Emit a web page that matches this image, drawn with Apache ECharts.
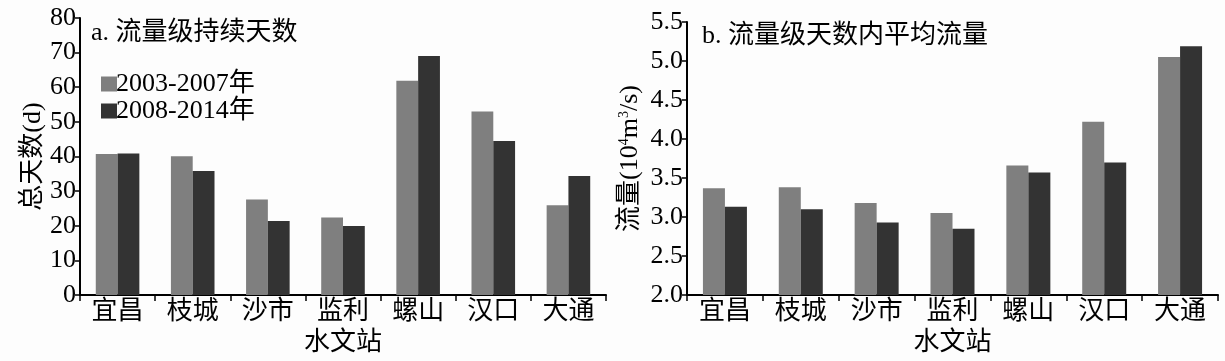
<!DOCTYPE html>
<html><head><meta charset="utf-8">
<script src="https://cdn.jsdelivr.net/npm/echarts@6/dist/echarts.min.js"></script>
<style>html,body{margin:0;padding:0;background:#fdfdfd}#c{width:1225px;height:361px}</style>
</head><body><div id="c"></div>
<script>
const stations = ['宜昌','枝城','沙市','监利','螺山','汉口','大通'];
const seriesNames = ['2003-2007年','2008-2014年'];
const daysEarly = [40.7, 40.1, 27.6, 22.4, 61.9, 53.0, 25.9];
const daysLate  = [40.9, 35.8, 21.4, 19.9, 69.0, 44.5, 34.4];
const flowEarly = [3.37, 3.38, 3.18, 3.05, 3.66, 4.22, 5.05];
const flowLate  = [3.13, 3.10, 2.93, 2.85, 3.57, 3.70, 5.19];
const daysTicks = {min:0, max:80, interval:10};
const flowTicks = {min:2.0, max:5.5, interval:0.5};

const FONT = '"Liberation Serif","Noto Sans CJK SC",serif';
const FS = 26;
const C1 = '#7f7f7f', C2 = '#333333';
const chart = echarts.init(document.getElementById('c'), null, {renderer:'canvas'});
const axisLine = {show:true, lineStyle:{color:'#000', width:2}};
const xAxisCommon = {
  type:'category', data:stations, name:'水文站', nameLocation:'middle', nameGap:35,
  nameTextStyle:{color:'#000', fontSize:FS, fontFamily:FONT},
  axisLine:axisLine, axisTick:{show:true, inside:false, length:6, lineStyle:{color:'#000', width:1.5}},
  axisLabel:{color:'#000', fontSize:FS, fontFamily:FONT, margin:4},
  splitLine:{show:false}
};
const yLabel = {color:'#000', fontSize:FS, fontFamily:FONT, margin:4};
const yTick = {show:true, inside:false, length:5, lineStyle:{color:'#000', width:1.5}};
chart.setOption({
  backgroundColor:'#fdfdfd',
  animation:false,
  title:[
    {text:'a. 流量级持续天数', left:86, top:15, textStyle:{fontSize:FS, fontWeight:'normal', color:'#000', fontFamily:FONT}},
    {text:'b. 流量级天数内平均流量', left:697, top:18, textStyle:{fontSize:FS, fontWeight:'normal', color:'#000', fontFamily:FONT}}
  ],
  legend:{
    data:seriesNames, orient:'vertical', left:96, top:66, itemWidth:16, itemHeight:15, itemGap:1,
    textStyle:{color:'#000', fontSize:FS, fontFamily:FONT, padding:[0,0,0,-6]}, icon:'rect'
  },
  grid:[
    {left:80, top:18, width:526, height:279},
    {left:687, top:22, width:531, height:275}
  ],
  xAxis:[
    Object.assign({gridIndex:0}, xAxisCommon),
    Object.assign({gridIndex:1}, xAxisCommon)
  ],
  yAxis:[
    {gridIndex:0, type:'value', min:daysTicks.min, max:daysTicks.max, interval:daysTicks.interval,
     name:'总天数(d)', nameLocation:'middle', nameGap:34, nameRotate:90,
     nameTextStyle:{color:'#000', fontSize:FS, fontFamily:FONT},
     axisLine:axisLine, axisTick:yTick, axisLabel:yLabel, splitLine:{show:false}},
    {gridIndex:1, type:'value', min:flowTicks.min, max:flowTicks.max, interval:flowTicks.interval,
     name:'流量(10{sup|4}m{sup|3}/s)', nameLocation:'middle', nameGap:44, nameRotate:90,
     nameTextStyle:{color:'#000', fontSize:FS, fontFamily:FONT,
       rich:{sup:{fontSize:14, verticalAlign:'top', fontFamily:FONT, color:'#000', padding:[0,0,10,0]}}},
     axisLine:axisLine, axisTick:yTick,
     axisLabel:Object.assign({}, yLabel, {formatter:v=>v.toFixed(1)}), splitLine:{show:false}}
  ],
  series:[
    {name:seriesNames[0], type:'bar', xAxisIndex:0, yAxisIndex:0, data:daysEarly, itemStyle:{color:C1}, barGap:'0%', barCategoryGap:'42%'},
    {name:seriesNames[1], type:'bar', xAxisIndex:0, yAxisIndex:0, data:daysLate, itemStyle:{color:C2}, barGap:'0%', barCategoryGap:'42%'},
    {name:seriesNames[0], type:'bar', xAxisIndex:1, yAxisIndex:1, data:flowEarly, itemStyle:{color:C1}, barGap:'0%', barCategoryGap:'42%'},
    {name:seriesNames[1], type:'bar', xAxisIndex:1, yAxisIndex:1, data:flowLate, itemStyle:{color:C2}, barGap:'0%', barCategoryGap:'42%'}
  ]
});
</script></body></html>
